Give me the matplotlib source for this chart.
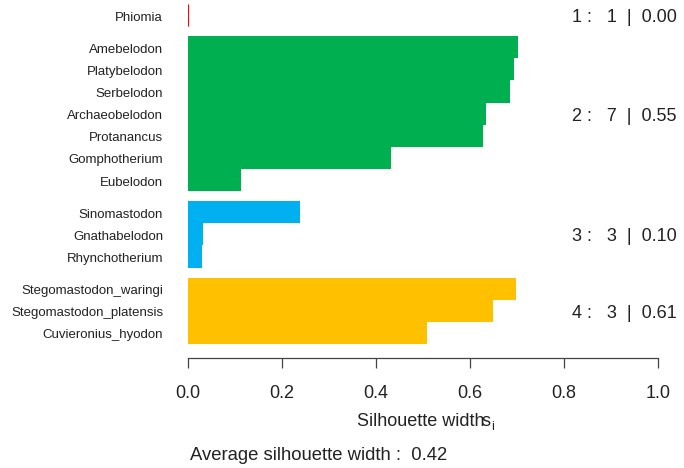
import numpy as np
import matplotlib
matplotlib.use("Agg")
import matplotlib.pyplot as plt
from matplotlib.transforms import offset_copy

plt.rcParams['font.family'] = ['Liberation Sans', 'DejaVu Sans']

# silhouette data, top to bottom
names = ['Phiomia',
         'Amebelodon', 'Platybelodon', 'Serbelodon', 'Archaeobelodon',
         'Protanancus', 'Gomphotherium', 'Eubelodon',
         'Sinomastodon', 'Gnathabelodon', 'Rhynchotherium',
         'Stegomastodon_waringi', 'Stegomastodon_platensis', 'Cuvieronius_hyodon']
widths = [0.0,
          0.702, 0.694, 0.685, 0.634, 0.628, 0.432, 0.113,
          0.238, 0.032, 0.030,
          0.698, 0.648, 0.508]
cluster = [1, 2, 2, 2, 2, 2, 2, 2, 3, 3, 3, 4, 4, 4]
cluster_sizes = [1, 7, 3, 3]
cluster_avg = [0.00, 0.55, 0.10, 0.61]
avg_width = 0.42
colors = {1: '#FF0000', 2: '#00B050', 3: '#00B0F0', 4: '#FFC000'}

W, H = 684, 468
fig = plt.figure(figsize=(W / 100, H / 100), dpi=100)
ax = fig.add_axes([188 / W, (H - 357.7) / H, 470 / W, 353.7 / H])

gap = 0.45
pos = []
y = 0.0
prev = None
for c in cluster:
    if prev is not None and c != prev:
        y += gap
    pos.append(y + 0.5)
    y += 1
    prev = c
pos = np.array(pos)
total = y

for p, w, c in zip(pos, widths, cluster):
    ax.barh(p, w, height=1.0, left=0, color=colors[c],
            edgecolor=colors[c], linewidth=0.8 if w == 0 else 0.0)

ax.set_xlim(0, 1)
ax.set_ylim(total + 0.62, 0)

# texts sit a little lower than the bar centres, like R does
tlow = offset_copy(ax.transData, fig=fig, x=0, y=-2.5, units='dots')

for p, n in zip(pos, names):
    ax.text(-0.053, p, n, ha='right', va='center', fontsize=9.5,
            color='#222222', clip_on=False, transform=tlow)

cl = np.array(cluster)
for k, (sz, av) in enumerate(zip(cluster_sizes, cluster_avg), start=1):
    yc = pos[cl == k].mean()
    ax.text(1.04, yc, f'{k} :   {sz}  |  {av:.2f}', ha='right', va='center',
            fontsize=13, color='#222222', clip_on=False, transform=tlow)

for s in ['top', 'right', 'left']:
    ax.spines[s].set_visible(False)
ax.spines['bottom'].set_color('#444444')
ax.spines['bottom'].set_linewidth(0.9)
ax.set_yticks([])
ax.set_xticks([0.0, 0.2, 0.4, 0.6, 0.8, 1.0])
ax.set_xticklabels(['0.0', '0.2', '0.4', '0.6', '0.8', '1.0'])
ax.tick_params(axis='x', direction='out', length=7.2, width=0.9,
               color='#444444', labelsize=13, pad=12.5, labelcolor='#222222')

# x label (the s_i overlaps the text, as in the original)
fig.text(421 / W, 1 - 422 / H, 'Silhouette width', ha='center', va='center',
         fontsize=13, color='#222222')
fig.text(481 / W, 1 - 422 / H, 's', ha='left', va='center',
         fontsize=13, color='#222222')
fig.text(491 / W, 1 - 427 / H, 'i', ha='left', va='center',
         fontsize=9, color='#222222')

fig.text(190 / W, 1 - 455 / H, f'Average silhouette width :  {avg_width:.2f}',
         ha='left', va='center', fontsize=13.3, color='#222222')

fig.savefig('out.png', dpi=100)
